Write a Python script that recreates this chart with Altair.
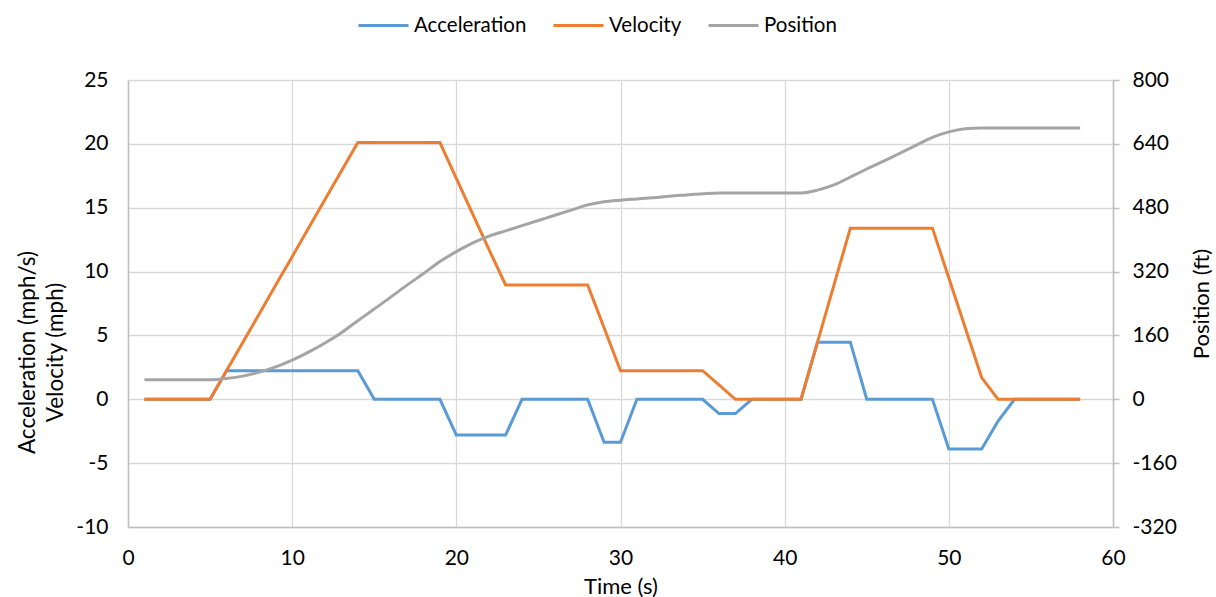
import altair as alt
import pandas as pd

# ---- data ----
time_s = list(range(1, 59))

acceleration = [
    0, 0, 0, 0, 0,
    2.23, 2.23, 2.23, 2.23, 2.23, 2.23, 2.23, 2.23, 2.23,
    0, 0, 0, 0, 0,
    -2.8, -2.8, -2.8, -2.8,
    0, 0, 0, 0, 0,
    -3.37, -3.37,
    0, 0, 0, 0, 0,
    -1.12, -1.12,
    0, 0, 0, 0,
    4.47, 4.47, 4.47,
    0, 0, 0, 0, 0,
    -3.9, -3.9, -3.9, -1.7,
    0, 0, 0, 0, 0,
]

velocity = [
    0, 0, 0, 0, 0,
    2.23, 4.47, 6.7, 8.94, 11.17, 13.41, 15.64, 17.88, 20.1,
    20.1, 20.1, 20.1, 20.1, 20.1,
    17.3, 14.5, 11.7, 8.95,
    8.95, 8.95, 8.95, 8.95, 8.95,
    5.6, 2.24,
    2.24, 2.24, 2.24, 2.24, 2.24,
    1.12, 0,
    0, 0, 0, 0,
    4.47, 8.94, 13.4,
    13.4, 13.4, 13.4, 13.4, 13.4,
    9.5, 5.6, 1.7, 0,
    0, 0, 0, 0, 0,
]

position = [
    49, 49, 49, 49, 49,
    52, 58, 68, 81, 98, 118, 141, 167, 197,
    226, 256, 286, 315, 345,
    370, 392, 409, 422,
    435, 448, 461, 474, 487,
    495, 499,
    502, 505, 509, 512, 515,
    517, 517,
    517, 517, 517, 517,
    524, 537, 557,
    577, 596, 616, 636, 656,
    670, 678, 680, 680,
    680, 680, 680, 680, 680,
]

series_names = ["Acceleration", "Velocity", "Position"]
series_colors = ["#5B9BD5", "#ED7D31", "#A5A5A5"]

left_ticks = [-10, -5, 0, 5, 10, 15, 20, 25]
right_ticks = [-320, -160, 0, 160, 320, 480, 640, 800]
x_ticks = [0, 10, 20, 30, 40, 50, 60]

rows = []
for name, vals in zip(series_names, [acceleration, velocity, position]):
    for t, v in zip(time_s, vals):
        rows.append({"time": t, "series": name, "value": v})
df = pd.DataFrame(rows)

FONT = "Lato"
TXT = "#000000"
PLAIN_LABEL = "'' + datum.value"

color = alt.Color(
    "series:N",
    scale=alt.Scale(domain=series_names, range=series_colors),
    legend=alt.Legend(
        title=None,
        orient="none",
        direction="horizontal",
        legendX=229,
        legendY=-81,
        symbolType="stroke",
        symbolSize=2500,
        symbolStrokeWidth=3,
        labelFontSize=20.5,
        labelFont=FONT,
        labelColor=TXT,
        labelOffset=4,
        columnPadding=20,
    ),
    sort=series_names,
)

x = alt.X(
    "time:Q",
    scale=alt.Scale(domain=[0, 60], nice=False),
    axis=alt.Axis(
        values=x_ticks,
        title="Time (s)",
        titleFontSize=22,
        titleFont=FONT,
        titleFontWeight="normal",
        titleColor=TXT,
        titlePadding=8,
        labelFontSize=21,
        labelFont=FONT,
        labelColor=TXT,
        labelPadding=20,
        labelFlush=False,
        labelExpr=PLAIN_LABEL,
        ticks=False,
        domainColor="#BFBFBF",
        domainWidth=1.5,
        gridColor="#D9D9D9",
        gridWidth=1.3,
    ),
)

left = (
    alt.Chart(df)
    .transform_filter(alt.FieldOneOfPredicate(field="series", oneOf=["Acceleration", "Velocity"]))
    .mark_line(strokeWidth=3, strokeJoin="miter")
    .encode(
        x=x,
        y=alt.Y(
            "value:Q",
            scale=alt.Scale(domain=[-10, 25], nice=False, zero=False),
            axis=alt.Axis(
                values=left_ticks,
                title=["Acceleration (mph/s)", "Velocity (mph)"],
                titleFontSize=22.5,
                titleFont=FONT,
                titleFontWeight="normal",
                titleColor=TXT,
                titleAngle=-90,
                titleX=-89,
                titleY=272,
                titleLineHeight=28,
                labelFontSize=21,
                labelFont=FONT,
                labelColor=TXT,
                labelPadding=20,
                labelExpr=PLAIN_LABEL,
                ticks=False,
                domainColor="#BFBFBF",
                domainWidth=1.5,
                gridColor="#D9D9D9",
                gridWidth=1.3,
            ),
        ),
        color=color,
        detail="series:N",
    )
)

right = (
    alt.Chart(df)
    .transform_filter(alt.FieldEqualPredicate(field="series", equal="Position"))
    .mark_line(strokeWidth=3, interpolate="monotone")
    .encode(
        x=x,
        y=alt.Y(
            "value:Q",
            scale=alt.Scale(domain=[-320, 800], nice=False, zero=False),
            axis=alt.Axis(
                values=right_ticks,
                orient="right",
                title="Position (ft)",
                titleFontSize=22,
                titleFont=FONT,
                titleFontWeight="normal",
                titleColor=TXT,
                titleAngle=-90,
                titlePadding=37,
                labelFontSize=21,
                labelFont=FONT,
                labelColor=TXT,
                labelPadding=13,
                labelExpr=PLAIN_LABEL,
                ticks=True,
                tickSize=6,
                tickColor="#BFBFBF",
                tickWidth=1.5,
                domainColor="#BFBFBF",
                domainWidth=1.5,
                grid=False,
            ),
        ),
        color=color,
    )
)

chart = (
    alt.layer(left, right)
    .resolve_scale(y="independent")
    .properties(
        width=985,
        height=447,
        autosize=alt.AutoSizeParams(type="none"),
        padding={"left": 128, "top": 80, "right": 103, "bottom": 70},
        background="white",
    )
    .configure_view(stroke=None)
)

chart.save("out.html", embed_options={"renderer": "svg", "actions": False})
